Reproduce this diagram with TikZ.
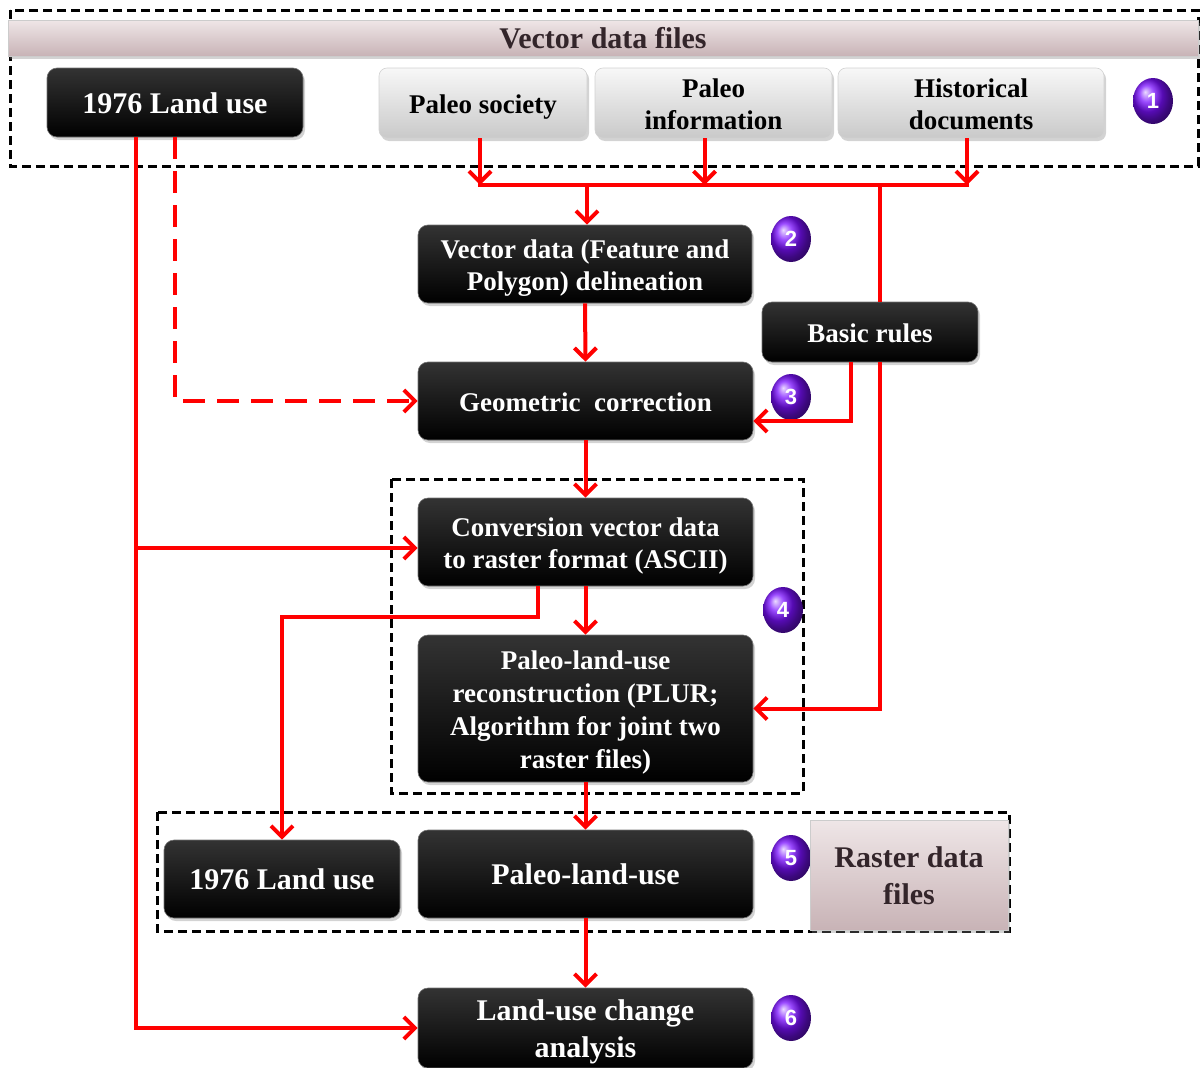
\documentclass[tikz,border=0pt]{standalone}
\usepackage{fontspec}
\setmainfont{Liberation Serif}
\newfontfamily\numfont{Liberation Sans}
\usetikzlibrary{arrows.meta,shapes.geometric,shadows,calc}
\definecolor{ballc}{HTML}{7A10FF}
\definecolor{pinkA}{HTML}{EFE6E7}
\definecolor{pinkB}{HTML}{C8B3B6}
\definecolor{pinktext}{HTML}{33252A}
\newcommand{\fsz}[2]{\fontsize{#1}{#2}\selectfont}
\newcommand{\tl}[1]{\raisebox{-4pt}[\height][\depth]{\begin{tabular}{@{}c@{}}#1\end{tabular}}}
\tikzset{
  shad/.style={drop shadow={shadow xshift=2pt,shadow yshift=-3pt,opacity=0.35}},
  blackbox/.style={shad, rounded corners=10pt, top color=black!80, middle color=black, bottom color=black,
    draw=black!55, line width=0.6pt, text=white, align=center, inner sep=0pt},
  greybox/.style={shad, rounded corners=8pt, top color=gray!6, bottom color=gray!42,
    draw=gray!35, line width=0.6pt, text=black, align=center, inner sep=0pt},
  pinkbox/.style={shad, top color=pinkA, bottom color=pinkB, draw=gray!40, line width=0.5pt,
    text=pinktext, align=center, inner sep=0pt},
  badge/.style={ellipse, minimum width=40pt, minimum height=46pt, inner sep=0pt, shading=ball,
    ball color=ballc, text=white, font=\numfont\bfseries\fsz{22}{26}},
  rl/.style={draw=red, line width=4pt},
  ra/.style={draw=red, line width=4pt, -{Straight Barb[length=11pt,width=22pt]}},
  dbox/.style={draw=black, line width=3pt, dash pattern=on 9pt off 5pt},
}
\begin{document}
\begin{tikzpicture}[x=1pt,y=-1pt]
\useasboundingbox (0,0) rectangle (1200,1068);
% dashed group boxes
\draw[dbox] (10,10) rectangle (1198,166);
\draw[dbox] (391,479) rectangle (803,793);
\draw[dbox] (157,812) rectangle (1009,931);

% banner
\node[pinkbox, minimum width=1190pt, minimum height=36pt, font=\bfseries\fsz{30}{34}] (vf) at (603,38) {Vector data files};

% top row
\node[blackbox, minimum width=256pt, minimum height=69pt, font=\bfseries\fsz{30}{34}] (lu1) at (175,102.5) {\tl{1976 Land use}};
\node[greybox, minimum width=208pt, minimum height=70pt, font=\bfseries\fsz{27}{32}] (ps) at (483,103) {\tl{Paleo society}};
\node[greybox, minimum width=237pt, minimum height=70pt, font=\bfseries\fsz{27}{32}] (pi) at (713.5,103) {\tl{Paleo\\information}};
\node[greybox, minimum width=266pt, minimum height=70pt, font=\bfseries\fsz{27}{32}] (hd) at (971,103) {\tl{Historical\\documents}};
\node[badge] (b1) at (1153,101) {1};

% main chain
\node[blackbox, minimum width=334pt, minimum height=78pt, font=\bfseries\fsz{27}{32}] (vd) at (585,264) {\tl{Vector data (Feature and\\Polygon) delineation}};
\node[badge] (b2) at (791,239) {2};
\node[blackbox, minimum width=216pt, minimum height=60pt, font=\bfseries\fsz{27}{32}] (br) at (870,332) {\tl{Basic rules}};
\node[blackbox, minimum width=335pt, minimum height=78pt, font=\bfseries\fsz{27}{32}] (gc) at (585.5,401) {\tl{Geometric\ \ correction}};
\node[badge] (b3) at (791,397) {3};
\node[blackbox, minimum width=335pt, minimum height=88pt, font=\bfseries\fsz{27}{32}] (cv) at (585.5,542) {\tl{Conversion vector data\\to raster format (ASCII)}};
\node[badge] (b4) at (783,610) {4};
\node[blackbox, minimum width=335pt, minimum height=147pt, font=\bfseries\fsz{27}{33}] (plur) at (585.5,708.5) {\tl{Paleo-land-use\\reconstruction (PLUR;\\Algorithm for joint two\\raster files)}};
\node[blackbox, minimum width=236pt, minimum height=78pt, font=\bfseries\fsz{30}{34}] (lu2) at (282,879) {\tl{1976 Land use}};
\node[blackbox, minimum width=335pt, minimum height=88pt, font=\bfseries\fsz{30}{34}] (pl) at (585.5,874) {\tl{Paleo-land-use}};
\node[badge] (b5) at (791,858) {5};
\node[pinkbox, minimum width=198pt, minimum height=110pt, font=\bfseries\fsz{30}{37}] (rd) at (909,875) {\tl{Raster data\\files}};
\node[blackbox, minimum width=335pt, minimum height=80pt, font=\bfseries\fsz{30}{37}] (lc) at (585.5,1028) {\tl{Land-use change\\analysis}};
\node[badge] (b6) at (791,1018) {6};

% connectors
\coordinate (bus) at (0,185);
\coordinate (brx) at (880,0);
\draw[ra] ([xshift=-3pt]ps.south) -- ([xshift=-3pt]ps.south |- bus);
\draw[ra] ([xshift=-9pt]pi.south) -- ([xshift=-9pt]pi.south |- bus);
\draw[ra] ([xshift=-4pt]hd.south) -- ([xshift=-4pt]hd.south |- bus);
\draw[rl] ([xshift=-5pt]ps.south |- bus) -- ([xshift=-2pt]hd.south |- bus);
\draw[ra] ([xshift=2pt]vd.north |- bus) -- ([xshift=2pt]vd.north);
\draw[rl] (brx |- bus) -- (brx |- br.north);
\draw[ra] (brx |- br.south) -- (brx |- plur.east) -- (plur.east);
\draw[ra] ([xshift=-19pt]br.south) |- ([yshift=-20pt]gc.east);
\draw[ra] (vd.south) -- (gc.north);
\draw[ra] (gc.south) -- (cv.north);
\draw[ra] (cv.south) -- (plur.north);
\draw[ra] (plur.south) -- (pl.north);
\draw[ra] (pl.south) -- (lc.north);
\draw[ra, dash pattern=on 22pt off 12pt] (lu1.south) |- (gc.west);
\coordinate (sx) at ([xshift=-39pt]lu1.south);
\draw[ra] (sx) |- (lc.west);
\draw[ra] (sx |- cv.west) ++(0,6) -- ([yshift=-6pt]cv.west);
\draw[ra] ([xshift=-48pt]cv.south) -- ++(0,31) -| (lu2.north);
\end{tikzpicture}
\end{document}
